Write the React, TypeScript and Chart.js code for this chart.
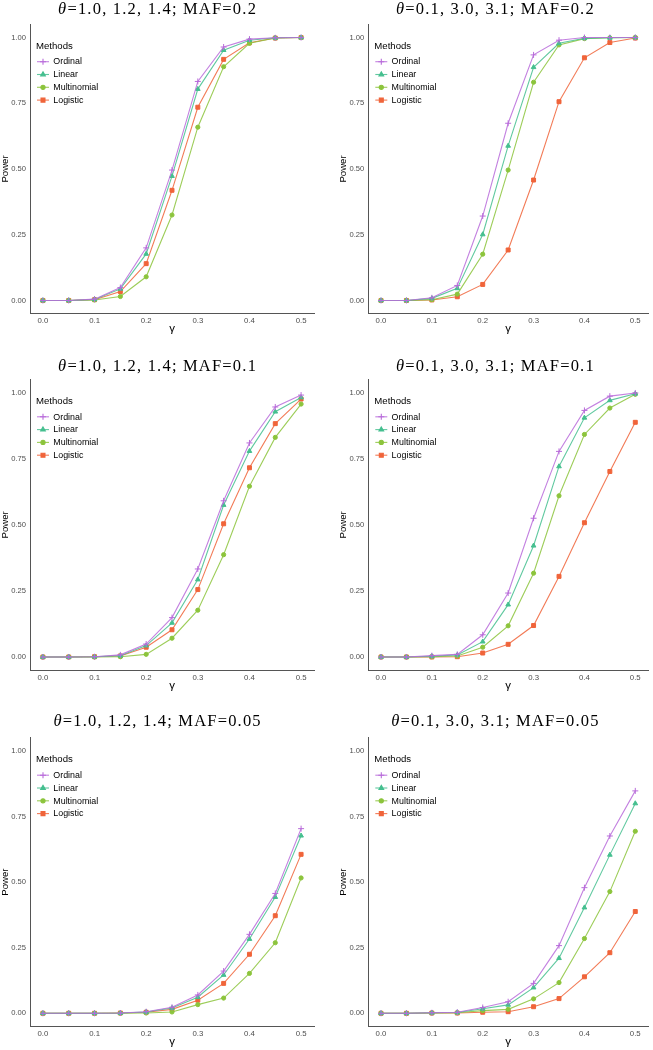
import React, { useEffect, useRef } from "react";
import { Chart, registerables } from "chart.js";
import { drawPoint } from "chart.js/helpers";

Chart.register(...registerables);

// ---------------- data ----------------
const gammaValues = [0, 0.05, 0.1, 0.15, 0.2, 0.25, 0.3, 0.35, 0.4, 0.45, 0.5];
const xTickValues = [0, 0.1, 0.2, 0.3, 0.4, 0.5];
const yTickValues = [0, 0.25, 0.5, 0.75, 1];

const methods = ["Ordinal", "Linear", "Multinomial", "Logistic"];
const methodColors = ["#B86BDA", "#45BF8F", "#8CC43C", "#F0643A"];
const methodLineColors = ["rgba(184,107,218,0.85)", "rgba(69,191,143,0.85)", "rgba(140,196,60,0.85)", "rgba(240,100,58,0.85)"];
const methodShapes = ["cross", "triangle", "circle", "rect"];
const methodRadius = [3, 2.7, 2.1, 2.8];

const panelTitles = [
  "θ=1.0, 1.2, 1.4; MAF=0.2",
  "θ=0.1, 3.0, 3.1; MAF=0.2",
  "θ=1.0, 1.2, 1.4; MAF=0.1",
  "θ=0.1, 3.0, 3.1; MAF=0.1",
  "θ=1.0, 1.2, 1.4; MAF=0.05",
  "θ=0.1, 3.0, 3.1; MAF=0.05",
];
const xAxisTitle = "γ";
const yAxisTitle = "Power";
const legendTitle = "Methods";

// Panel 1: θ=1.0, 1.2, 1.4; MAF=0.2
const p1Ordinal = [0, 0, 0.005, 0.049, 0.2, 0.496, 0.833, 0.964, 0.994, 0.999, 1.0];
const p1Linear = [0, 0, 0.004, 0.044, 0.177, 0.473, 0.804, 0.952, 0.99, 0.999, 1.0];
const p1Multinomial = [0, 0, 0.002, 0.015, 0.09, 0.325, 0.659, 0.889, 0.978, 0.998, 1.0];
const p1Logistic = [0, 0, 0.003, 0.034, 0.14, 0.419, 0.735, 0.917, 0.98, 0.998, 1.0];

// Panel 2: θ=0.1, 3.0, 3.1; MAF=0.2
const p2Ordinal = [0, 0, 0.01, 0.057, 0.321, 0.674, 0.934, 0.99, 1.0, 1.0, 1.0];
const p2Linear = [0, 0, 0.008, 0.046, 0.251, 0.588, 0.887, 0.978, 0.997, 0.999, 1.0];
const p2Multinomial = [0, 0, 0.003, 0.024, 0.176, 0.496, 0.83, 0.972, 0.996, 0.999, 1.0];
const p2Logistic = [0, 0, 0.002, 0.014, 0.061, 0.192, 0.458, 0.756, 0.923, 0.981, 0.998];

// Panel 3: θ=1.0, 1.2, 1.4; MAF=0.1
const p3Ordinal = [0, 0, 0.001, 0.008, 0.049, 0.149, 0.333, 0.591, 0.81, 0.946, 0.991];
const p3Linear = [0, 0, 0.001, 0.005, 0.043, 0.129, 0.293, 0.575, 0.779, 0.928, 0.982];
const p3Multinomial = [0, 0, 0, 0.001, 0.01, 0.071, 0.177, 0.387, 0.646, 0.831, 0.957];
const p3Logistic = [0, 0, 0.001, 0.004, 0.037, 0.103, 0.255, 0.504, 0.716, 0.883, 0.976];

// Panel 4: θ=0.1, 3.0, 3.1; MAF=0.1
const p4Ordinal = [0, 0, 0.005, 0.01, 0.084, 0.242, 0.525, 0.778, 0.933, 0.987, 0.999];
const p4Linear = [0, 0, 0.003, 0.008, 0.058, 0.198, 0.421, 0.721, 0.905, 0.971, 0.996];
const p4Multinomial = [0, 0, 0.001, 0.004, 0.037, 0.118, 0.317, 0.61, 0.842, 0.942, 0.994];
const p4Logistic = [0, 0, 0, 0.001, 0.015, 0.048, 0.119, 0.305, 0.508, 0.702, 0.888];

// Panel 5: θ=1.0, 1.2, 1.4; MAF=0.05
const p5Ordinal = [0, 0, 0, 0.001, 0.006, 0.023, 0.07, 0.161, 0.301, 0.457, 0.704];
const p5Linear = [0, 0, 0, 0.001, 0.005, 0.02, 0.061, 0.146, 0.283, 0.443, 0.677];
const p5Multinomial = [0, 0, 0, 0, 0.001, 0.005, 0.033, 0.058, 0.152, 0.269, 0.516];
const p5Logistic = [0, 0, 0, 0.001, 0.004, 0.015, 0.05, 0.114, 0.225, 0.372, 0.606];

// Panel 6: θ=0.1, 3.0, 3.1; MAF=0.05
const p6Ordinal = [0, 0, 0.002, 0.004, 0.022, 0.044, 0.114, 0.258, 0.479, 0.676, 0.848];
const p6Linear = [0, 0, 0.002, 0.003, 0.017, 0.032, 0.098, 0.21, 0.403, 0.604, 0.8];
const p6Multinomial = [0, 0, 0.001, 0.002, 0.01, 0.015, 0.055, 0.117, 0.285, 0.464, 0.694];
const p6Logistic = [0, 0, 0.001, 0.001, 0.004, 0.006, 0.025, 0.056, 0.139, 0.231, 0.388];

const panelSeries = [
  [p1Ordinal, p1Linear, p1Multinomial, p1Logistic],
  [p2Ordinal, p2Linear, p2Multinomial, p2Logistic],
  [p3Ordinal, p3Linear, p3Multinomial, p3Logistic],
  [p4Ordinal, p4Linear, p4Multinomial, p4Logistic],
  [p5Ordinal, p5Linear, p5Multinomial, p5Logistic],
  [p6Ordinal, p6Linear, p6Multinomial, p6Logistic],
];

// ---------------- layout ----------------
const colGeom = [
  { left: 0, width: 326, chartLeft: 30, chartRight: 314, titleX: 157 },
  { left: 326, width: 327, chartLeft: 42.3, chartRight: 326, titleX: 168.8 },
];
const rowGeom = [
  { top: 0, height: 345, chartTop: 24.4, chartBottom: 313.6, titleY: 13.5 },
  { top: 345, height: 350, chartTop: 34.5, chartBottom: 325.2, titleY: 26.3 },
  { top: 695, height: 355, chartTop: 42.9, chartBottom: 331.4, titleY: 30.8 },
];

const SANS = "'Liberation Sans', Arial, sans-serif";
const SERIF = "'Liberation Serif', 'Times New Roman', serif";
const TITLE_SIZE = 16.5;
const TITLE_LS = 1.2;

const panelDecor = {
  id: "panelDecor",
  afterDraw(chart: any, _args: any, opts: any) {
    const ctx = chart.ctx as CanvasRenderingContext2D & { letterSpacing?: string };
    const ca = chart.chartArea;
    ctx.save();
    ctx.fillStyle = "#000";

    // panel title
    const title: string = opts.title;
    const head = title.slice(0, 1);
    const rest = title.slice(1);
    const ls = TITLE_LS;
    const hasLs = "letterSpacing" in ctx;
    ctx.textAlign = "left";
    ctx.textBaseline = "alphabetic";
    ctx.font = `italic ${TITLE_SIZE}px ${SERIF}`;
    const wh = ctx.measureText(head).width;
    ctx.font = `${TITLE_SIZE}px ${SERIF}`;
    if (hasLs) ctx.letterSpacing = ls + "px";
    const wr = ctx.measureText(rest).width;
    const gap = hasLs ? ls : 0;
    const total = wh + gap + wr - gap;
    const x0 = opts.titleX - total / 2;
    if (hasLs) ctx.letterSpacing = "0px";
    ctx.font = `italic ${TITLE_SIZE}px ${SERIF}`;
    ctx.fillText(head, x0, opts.titleY);
    ctx.font = `${TITLE_SIZE}px ${SERIF}`;
    if (hasLs) ctx.letterSpacing = ls + "px";
    ctx.fillText(rest, x0 + wh + gap, opts.titleY);
    if (hasLs) ctx.letterSpacing = "0px";

    // y axis title
    ctx.save();
    ctx.font = `9.6px ${SANS}`;
    ctx.textAlign = "center";
    ctx.textBaseline = "alphabetic";
    ctx.translate(ca.left - 22.3, (ca.top + ca.bottom) / 2);
    ctx.rotate(-Math.PI / 2);
    ctx.fillText(opts.yTitle, 0, 0);
    ctx.restore();

    // x axis title
    ctx.font = `11.5px ${SANS}`;
    ctx.textAlign = "center";
    ctx.textBaseline = "alphabetic";
    ctx.fillText(opts.xTitle, (ca.left + ca.right) / 2, ca.bottom + 18.3);

    // legend
    ctx.textAlign = "left";
    ctx.textBaseline = "middle";
    ctx.font = `9.6px ${SANS}`;
    ctx.fillText(opts.legendTitle, ca.left + 6, ca.top + 21.8);
    chart.data.datasets.forEach((ds: any, i: number) => {
      const y = ca.top + 37.3 + i * 12.8;
      ctx.strokeStyle = ds.borderColor;
      ctx.lineWidth = 1.1;
      ctx.beginPath();
      ctx.moveTo(ca.left + 7, y);
      ctx.lineTo(ca.left + 19, y);
      ctx.stroke();
      ctx.fillStyle = ds.pointBackgroundColor;
      ctx.strokeStyle = ds.pointBorderColor;
      drawPoint(ctx, { pointStyle: ds.pointStyle, radius: ds.pointRadius, rotation: 0, borderWidth: 1 }, ca.left + 13, y);
      ctx.fillStyle = "#000";
      ctx.font = `8.9px ${SANS}`;
      ctx.fillText(ds.label, ca.left + 23.3, y + 0.3);
    });
    ctx.restore();
  },
};

function Panel({ index }: { index: number }) {
  const ref = useRef<HTMLCanvasElement | null>(null);
  const col = colGeom[index % 2];
  const row = rowGeom[Math.floor(index / 2)];

  useEffect(() => {
    if (!ref.current) return;
    const series = panelSeries[index];
    const chart = new Chart(ref.current, {
      type: "line",
      data: {
        labels: gammaValues,
        datasets: methods.map((m, i) => ({
          label: m,
          data: gammaValues.map((g, j) => ({ x: g, y: series[i][j] })),
          borderColor: methodLineColors[i],
          borderWidth: 1.1,
          pointStyle: methodShapes[i],
          pointRadius: methodRadius[i],
          pointBorderWidth: 1,
          pointBackgroundColor: methodColors[i],
          pointBorderColor: methodColors[i],
          tension: 0,
          fill: false,
        })),
      },
      options: {
        responsive: false,
        animation: false,
        events: [],
        devicePixelRatio: 1,
        layout: {
          padding: { left: 0, top: row.chartTop, right: col.width - col.chartRight, bottom: 0 },
        },
        plugins: {
          legend: { display: false },
          title: { display: false },
          tooltip: { enabled: false },
          panelDecor: {
            title: panelTitles[index],
            titleX: col.titleX,
            titleY: row.titleY,
            xTitle: xAxisTitle,
            yTitle: yAxisTitle,
            legendTitle: legendTitle,
          },
        } as any,
        scales: {
          x: {
            type: "linear",
            min: -0.025,
            max: 0.525,
            afterBuildTicks: (s: any) => {
              s.ticks = xTickValues.map((v) => ({ value: v }));
            },
            afterFit: (s: any) => {
              s.height = row.height - row.chartBottom;
            },
            ticks: {
              autoSkip: false,
              maxRotation: 0,
              padding: 3,
              color: "#4d4d4d",
              font: { size: 7.8, family: SANS },
              callback: (v: any) => Number(v).toFixed(1),
            },
            grid: { display: false, drawTicks: false },
            border: { display: true, color: "#555", width: 1 },
          },
          y: {
            type: "linear",
            min: -0.05,
            max: 1.05,
            afterBuildTicks: (s: any) => {
              s.ticks = yTickValues.map((v) => ({ value: v }));
            },
            afterFit: (s: any) => {
              s.width = col.chartLeft;
            },
            ticks: {
              autoSkip: false,
              padding: 4,
              color: "#4d4d4d",
              font: { size: 7.6, family: SANS },
              callback: (v: any) => Number(v).toFixed(2),
            },
            grid: { display: false, drawTicks: false },
            border: { display: true, color: "#555", width: 1 },
          },
        },
      } as any,
      plugins: [panelDecor as any],
    });
    return () => chart.destroy();
  }, [index]);

  return (
    <div style={{ position: "absolute", left: col.left, top: row.top, width: col.width, height: row.height }}>
      <canvas ref={ref} width={col.width} height={row.height} style={{ display: "block", width: col.width, height: row.height }} />
    </div>
  );
}

export default function App() {
  return (
    <div style={{ position: "absolute", left: 0, top: 0, width: 653, height: 1050, background: "#fff", overflow: "hidden" }}>
      {panelTitles.map((_, i) => (
        <Panel key={i} index={i} />
      ))}
    </div>
  );
}
